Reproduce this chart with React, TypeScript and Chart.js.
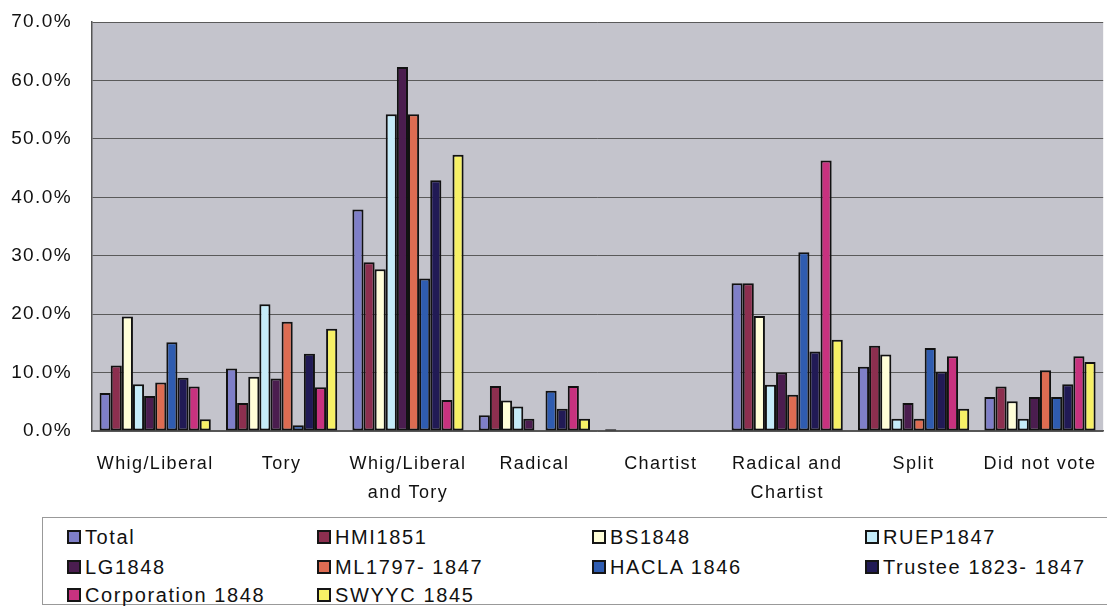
import React, { useEffect, useRef } from "react";
import { Chart, registerables } from "chart.js";

Chart.register(...registerables);

const categories: string[][] = [
  ["Whig/Liberal"],
  ["Tory"],
  ["Whig/Liberal", "and Tory"],
  ["Radical"],
  ["Chartist"],
  ["Radical and", "Chartist"],
  ["Split"],
  ["Did not vote"],
];

const seriesNames = [
  "Total",
  "HMI1851",
  "BS1848",
  "RUEP1847",
  "LG1848",
  "ML1797- 1847",
  "HACLA 1846",
  "Trustee 1823- 1847",
  "Corporation 1848",
  "SWYYC 1845",
];

const total = [6.5, 10.7, 37.9, 2.7, 0.3, 25.3, 11.0, 5.8];
const hmi1851 = [11.2, 4.8, 28.9, 7.7, 0, 25.3, 14.6, 7.6];
const bs1848 = [19.6, 9.3, 27.7, 5.2, 0, 19.7, 13.1, 5.1];
const ruep1847 = [8.0, 21.7, 54.2, 4.2, 0, 7.9, 2.1, 2.1];
const lg1848 = [6.0, 9.0, 62.3, 2.1, 0, 10.0, 4.8, 5.8];
const ml1797 = [8.3, 18.7, 54.2, 0, 0, 6.2, 2.1, 10.4];
const hacla1846 = [15.2, 1.0, 26.1, 6.9, 0, 30.6, 14.2, 5.8];
const trustee1823 = [9.1, 13.2, 42.9, 3.8, 0, 13.6, 10.2, 8.0];
const corporation1848 = [7.6, 7.5, 5.3, 7.7, 0, 46.3, 12.8, 12.8];
const swyyc1845 = [2.0, 17.5, 47.3, 2.1, 0, 15.6, 3.8, 11.8];

const seriesValues = [
  total,
  hmi1851,
  bs1848,
  ruep1847,
  lg1848,
  ml1797,
  hacla1846,
  trustee1823,
  corporation1848,
  swyyc1845,
];

const seriesColors = [
  "#7f7fc8",
  "#8c2f4f",
  "#fffed8",
  "#c5ecf9",
  "#4b1d4f",
  "#dd6c52",
  "#2f5cb0",
  "#211a55",
  "#c8327f",
  "#f6f066",
];

const yTicks = [0, 10, 20, 30, 40, 50, 60, 70];

const plotBg = {
  id: "plotBg",
  beforeDraw(chart: any) {
    const { ctx, chartArea } = chart;
    ctx.letterSpacing = "1.4px";
    ctx.save();
    ctx.fillStyle = "#c4c4cc";
    ctx.fillRect(chartArea.left, chartArea.top, chartArea.right - chartArea.left, chartArea.bottom - chartArea.top);
    ctx.restore();
  },
};

export default function App() {
  const ref = useRef<HTMLCanvasElement | null>(null);

  useEffect(() => {
    if (!ref.current) return;
    const chart = new Chart(ref.current, {
      type: "bar",
      data: {
        labels: categories,
        datasets: seriesNames.map((name, i) => ({
          label: name,
          data: seriesValues[i],
          backgroundColor: seriesColors[i],
          borderColor: "#111",
          borderWidth: 2,
          borderSkipped: false,
          categoryPercentage: 0.88,
          barPercentage: 1.0,
        })),
      },
      options: {
        animation: false,
        responsive: false,
        devicePixelRatio: 1,
        layout: { padding: { top: 22, right: 0, bottom: 0, left: 0 } },
        plugins: {
          legend: { display: false },
          tooltip: { enabled: false },
        },
        scales: {
          x: {
            grid: { display: true, drawOnChartArea: false, drawTicks: false },
            border: { display: true, color: "#555", width: 1.5 },
            ticks: {
              color: "#111",
              padding: 19,
              maxRotation: 0,
              autoSkip: false,
              font: { family: "'Liberation Sans', Arial, sans-serif", size: 18, lineHeight: 1.6 },
            },
            afterFit(scale: any) {
              scale.height = 81;
            },
          },
          y: {
            min: 0,
            max: 70,
            afterBuildTicks(scale: any) {
              scale.ticks = yTicks.map((v) => ({ value: v }));
            },
            grid: { color: "#5a5a5a", lineWidth: 1, drawTicks: false },
            border: { display: true, color: "#555", width: 1.5 },
            ticks: {
              color: "#111",
              padding: 20,
              font: { family: "'Liberation Sans', Arial, sans-serif", size: 19 },
              callback: (v: any) => Number(v).toFixed(1) + "%",
            },
            afterFit(scale: any) {
              scale.width = 92;
              scale.paddingTop = 0;
              scale.paddingBottom = 0;
            },
          },
        },
      },
      plugins: [plotBg],
    });
    return () => chart.destroy();
  }, []);

  const colLeft = [24, 274, 549, 822];
  const rowCenter = [19, 49, 77];

  return (
    <div style={{ position: "absolute", left: 0, top: 0, width: 1107, height: 609, background: "#fff", overflow: "hidden" }}>
      <canvas ref={ref} width={1107} height={512} style={{ position: "absolute", left: 0, top: 0, width: 1107, height: 512 }} />
      <div
        style={{
          position: "absolute",
          left: 42,
          top: 517,
          width: 1090,
          height: 88,
          border: "1px solid #999",
          boxSizing: "border-box",
        }}
      >
        {seriesNames.map((name, i) => (
          <div
            key={name}
            style={{
              position: "absolute",
              left: colLeft[i % 4],
              top: rowCenter[Math.floor(i / 4)] - 12,
              height: 24,
              display: "flex",
              alignItems: "center",
              fontFamily: "'Liberation Sans', Arial, sans-serif",
              fontSize: 20,
              letterSpacing: "1.6px",
              color: "#111",
              whiteSpace: "nowrap",
            }}
          >
            <span
              style={{
                display: "inline-block",
                width: 14,
                height: 14,
                boxSizing: "border-box",
                border: "2px solid #151515",
                background: seriesColors[i],
                marginRight: 4,
              }}
            />
            <span>{name}</span>
          </div>
        ))}
      </div>
    </div>
  );
}
